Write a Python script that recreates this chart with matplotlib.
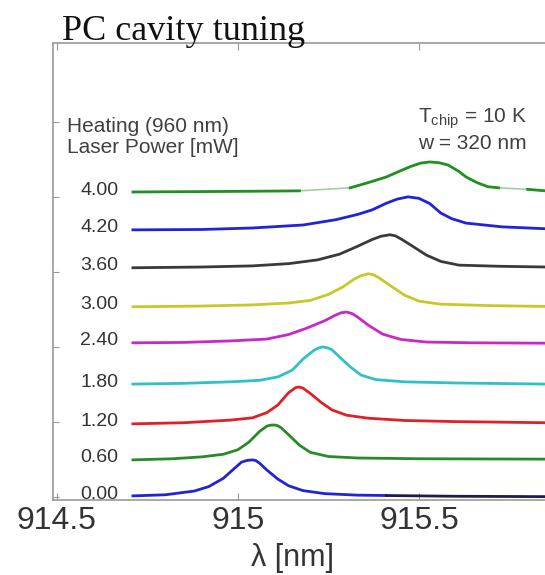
import numpy as np
import matplotlib
matplotlib.use('Agg')
import matplotlib.pyplot as plt

plt.rcParams['font.family'] = 'Liberation Sans'
plt.rcParams['mathtext.fontset'] = 'custom'
plt.rcParams['mathtext.rm'] = 'Liberation Sans'
plt.rcParams['mathtext.it'] = 'Liberation Sans:italic'

# heating laser power labels, bottom to top (as printed on the chart)
power_labels = ['0.00', '0.60', '1.20', '1.80', '2.40', '3.00', '3.60', '4.20', '4.00']
colors = ['#2222d8', '#2a8a2a', '#e02028', '#30c0c8', '#c828c8',
          '#c8c828', '#3a3a3a', '#2222d8', '#209020']

# spectra: wavelength [nm], stacked intensity
wl_0 = [914.71, 914.80, 914.88, 914.92, 914.96, 914.99, 915.01, 915.025, 915.04, 915.05, 915.06,
        915.08, 915.11, 915.14, 915.18, 915.24, 915.33, 915.41, 915.60, 915.85]
sp_0 = [0.03, 0.06, 0.16, 0.28, 0.50, 0.76, 0.93, 0.975, 0.99, 0.97, 0.90,
        0.72, 0.48, 0.30, 0.17, 0.09, 0.05, 0.04, 0.02, 0.01]

wl_1 = [914.71, 914.82, 914.90, 914.96, 915.00, 915.03, 915.06, 915.08, 915.09, 915.10, 915.11,
        915.12, 915.14, 915.17, 915.20, 915.25, 915.33, 915.50, 915.85]
sp_1 = [0.99, 1.02, 1.07, 1.14, 1.26, 1.46, 1.75, 1.89, 1.915, 1.92, 1.90,
        1.84, 1.66, 1.38, 1.19, 1.08, 1.04, 1.02, 1.01]

wl_2 = [914.71, 914.85, 914.98, 915.04, 915.08, 915.11, 915.14, 915.16, 915.17, 915.18, 915.20,
        915.23, 915.26, 915.30, 915.36, 915.46, 915.60, 915.85]
sp_2 = [1.95, 1.98, 2.05, 2.11, 2.25, 2.45, 2.78, 2.92, 2.93, 2.90, 2.76,
        2.52, 2.32, 2.18, 2.10, 2.04, 2.01, 1.98]

wl_3 = [914.71, 914.85, 914.98, 915.06, 915.11, 915.15, 915.18, 915.21, 915.222, 915.235,
        915.248, 915.26, 915.28, 915.31, 915.34, 915.38, 915.46, 915.60, 915.85]
sp_3 = [3.01, 3.03, 3.07, 3.11, 3.20, 3.38, 3.68, 3.91, 3.97, 4.00,
        3.975, 3.92, 3.74, 3.47, 3.25, 3.13, 3.07, 3.04, 3.01]

wl_4 = [914.71, 914.85, 914.98, 915.08, 915.14, 915.19, 915.24, 915.27, 915.285, 915.30,
        915.315, 915.33, 915.36, 915.40, 915.45, 915.52, 915.65, 915.85]
sp_4 = [4.11, 4.12, 4.16, 4.21, 4.33, 4.50, 4.70, 4.85, 4.91, 4.93,
        4.89, 4.80, 4.58, 4.34, 4.20, 4.13, 4.11, 4.10]

wl_5 = [914.71, 914.90, 915.04, 915.14, 915.20, 915.25, 915.29, 915.32, 915.34, 915.36,
        915.375, 915.39, 915.42, 915.46, 915.50, 915.56, 915.70, 915.85]
sp_5 = [5.07, 5.09, 5.12, 5.17, 5.24, 5.40, 5.60, 5.80, 5.90, 5.95,
        5.92, 5.84, 5.64, 5.38, 5.22, 5.14, 5.10, 5.08]

wl_6 = [914.71, 914.90, 915.04, 915.14, 915.22, 915.28, 915.33, 915.37, 915.395, 915.42,
        915.435, 915.45, 915.48, 915.52, 915.56, 915.61, 915.72, 915.85]
sp_6 = [6.11, 6.13, 6.16, 6.22, 6.32, 6.47, 6.68, 6.86, 6.95, 6.99,
        6.96, 6.88, 6.70, 6.45, 6.28, 6.18, 6.15, 6.13]

wl_7 = [914.71, 914.90, 915.04, 915.18, 915.27, 915.33, 915.37, 915.41, 915.44, 915.47,
        915.50, 915.53, 915.56, 915.59, 915.63, 915.73, 915.85]
sp_7 = [7.12, 7.13, 7.17, 7.25, 7.39, 7.53, 7.65, 7.83, 7.94, 8.00,
        7.96, 7.82, 7.57, 7.42, 7.30, 7.20, 7.15]

wl_8 = [914.71, 914.90, 915.05, 915.17, 915.31, 915.36, 915.41, 915.45, 915.48, 915.505, 915.53,
        915.555, 915.58, 915.61, 915.63, 915.66, 915.69, 915.72, 915.80, 915.85]
sp_8 = [8.13, 8.14, 8.15, 8.16, 8.24, 8.38, 8.53, 8.70, 8.82, 8.90, 8.93,
        8.91, 8.85, 8.68, 8.53, 8.38, 8.27, 8.24, 8.20, 8.16]

spectra = [(wl_0, sp_0), (wl_1, sp_1), (wl_2, sp_2), (wl_3, sp_3), (wl_4, sp_4),
           (wl_5, sp_5), (wl_6, sp_6), (wl_7, sp_7), (wl_8, sp_8)]

fig = plt.figure(figsize=(5.45, 5.75), dpi=100)
ax = fig.add_axes([0.097, 0.1304, 0.903, 0.7948])

txtc = '#333333'
for i, (wl, sp) in enumerate(spectra):
    wl = np.array(wl)
    sp = np.array(sp)
    if i == 0:
        # right tail of the bottom trace is darker
        m = wl <= 915.41
        ax.plot(wl[m], sp[m], color=colors[i], lw=2)
        ax.plot(wl[wl >= 915.41], sp[wl >= 915.41], color='#1c1c50', lw=2)
    elif i == 8:
        # top trace has faded gaps
        ax.plot(wl, sp, color='#9fd09f', lw=1.2)
        for m in [wl <= 915.17, (wl >= 915.31) & (wl <= 915.72), wl >= 915.80]:
            ax.plot(wl[m], sp[m], color=colors[i], lw=2)
    else:
        ax.plot(wl, sp, color=colors[i], lw=2)
    ax.text(914.67, sp[0] + 0.05, power_labels[i], ha='right', va='center',
            fontsize=14, color=txtc)

ax.set_xlim(914.489, 915.848)
ax.set_ylim(-0.08, 12.1)
ax.set_xticks([914.5, 915, 915.5])
ax.set_xticklabels(['914.5', '915', '915.5'])
ax.set_yticks([0, 2, 4, 6, 8, 10])
ax.tick_params(axis='x', direction='in', top=True, length=5, color='#999999',
               labelsize=23, labelcolor=txtc, pad=4)
ax.tick_params(axis='y', direction='in', length=4, color='#999999', labelleft=False)
for s in ['left', 'top', 'bottom']:
    ax.spines[s].set_color('#999999')
    ax.spines[s].set_linewidth(1.2)
ax.spines['right'].set_visible(False)

ax.set_xlabel('λ [nm]', fontsize=22, color=txtc)
ax.xaxis.set_label_coords(0.486, -0.094)

ax.text(0.028, 0.838, 'Heating (960 nm)\nLaser Power [mW]', transform=ax.transAxes,
        ha='left', va='top', fontsize=15, color='#404040', linespacing=1.15)
ax.text(0.742, 0.86, r'T$_\mathrm{chip}$ = 10 K', transform=ax.transAxes,
        ha='left', va='top', fontsize=15, color='#404040')
ax.text(0.742, 0.80, 'w = 320 nm', transform=ax.transAxes,
        ha='left', va='top', fontsize=15, color='#404040')

fig.text(0.114, 0.930, 'PC cavity tuning', family='Liberation Serif', fontsize=26,
         va='baseline', color='#111111')

fig.savefig('out.png', dpi=100)
